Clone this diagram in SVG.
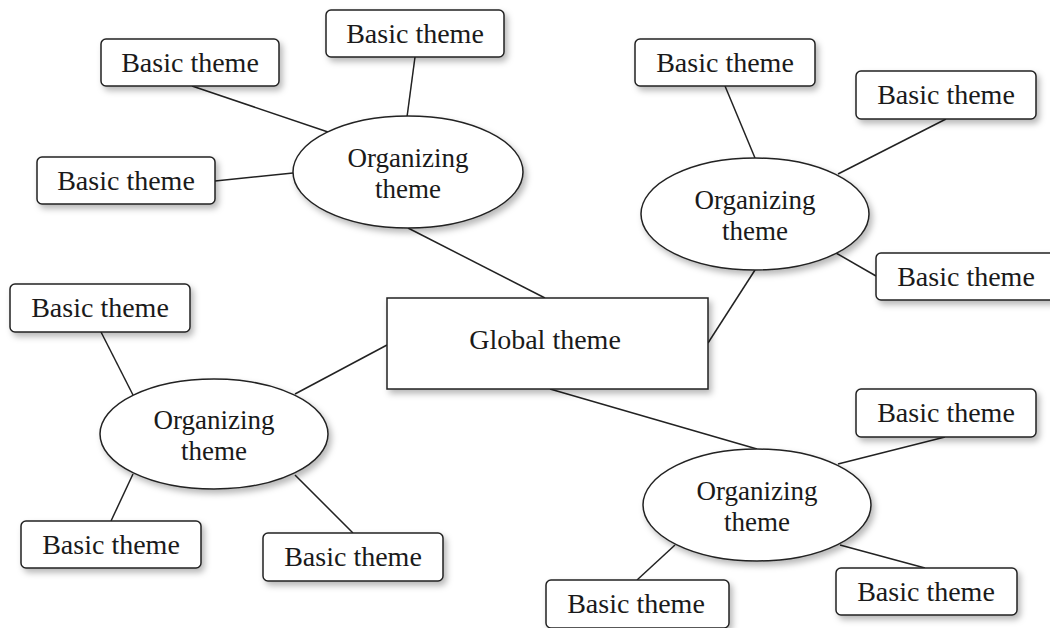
<svg xmlns="http://www.w3.org/2000/svg" width="1050" height="628" viewBox="0 0 1050 628">
  <defs>
    <filter id="shadow" x="-20%" y="-30%" width="150%" height="180%">
      <feDropShadow dx="3" dy="4" stdDeviation="3" flood-color="#000" flood-opacity="0.28"/>
    </filter>
    <style>
      .link { stroke: #222; stroke-width: 1.5; fill: none; }
      .basic rect { fill: #fff; stroke: #222; stroke-width: 1.5; filter: url(#shadow); }
      .org ellipse { fill: #fff; stroke: #222; stroke-width: 1.5; filter: url(#shadow); }
      .global rect { fill: #fff; stroke: #222; stroke-width: 1.5; filter: url(#shadow); }
      text { font-family: "Liberation Serif", "Times New Roman", serif; fill: #1a1a1a; text-anchor: middle; }
      .basic text, .global text { font-size: 28px; }
      .org text { font-size: 27px; }
    </style>
  </defs>
  <rect width="1050" height="628" fill="#fff"/>

  <!-- connectors -->
  <g id="connectors">
    <!-- global to organizing themes -->
    <line class="link" x1="408" y1="228" x2="545" y2="298"/>
    <line class="link" x1="708" y1="343" x2="755" y2="270"/>
    <line class="link" x1="387" y1="345" x2="295" y2="394"/>
    <line class="link" x1="550" y1="389" x2="757" y2="449"/>
    <!-- top-left cluster -->
    <line class="link" x1="192" y1="86" x2="328" y2="132"/>
    <line class="link" x1="415" y1="57" x2="407" y2="117"/>
    <line class="link" x1="215" y1="181" x2="293" y2="173"/>
    <!-- top-right cluster -->
    <line class="link" x1="725" y1="86" x2="755" y2="158"/>
    <line class="link" x1="946" y1="119" x2="838" y2="174"/>
    <line class="link" x1="876" y1="276" x2="836" y2="253"/>
    <!-- left cluster -->
    <line class="link" x1="101" y1="332" x2="133" y2="395"/>
    <line class="link" x1="111" y1="521" x2="133" y2="474"/>
    <line class="link" x1="353" y1="533" x2="295" y2="475"/>
    <!-- bottom-right cluster -->
    <line class="link" x1="945" y1="437" x2="838" y2="464"/>
    <line class="link" x1="925" y1="568" x2="840" y2="545"/>
    <line class="link" x1="637" y1="580" x2="675" y2="545"/>
  </g>

  <!-- global theme -->
  <g id="global" class="global">
    <rect x="387" y="298" width="321" height="91"/>
    <text x="545" y="349">Global theme</text>
  </g>

  <!-- organizing themes -->
  <g id="org-top-left" class="org">
    <ellipse cx="408" cy="172" rx="115" ry="56"/>
    <text x="408" y="167">Organizing</text>
    <text x="408" y="198">theme</text>
  </g>
  <g id="org-top-right" class="org">
    <ellipse cx="755" cy="214" rx="114" ry="56"/>
    <text x="755" y="209">Organizing</text>
    <text x="755" y="240">theme</text>
  </g>
  <g id="org-left" class="org">
    <ellipse cx="214" cy="434" rx="114" ry="55"/>
    <text x="214" y="429">Organizing</text>
    <text x="214" y="460">theme</text>
  </g>
  <g id="org-bottom-right" class="org">
    <ellipse cx="757" cy="505" rx="114" ry="56"/>
    <text x="757" y="500">Organizing</text>
    <text x="757" y="531">theme</text>
  </g>

  <!-- basic themes -->
  <g id="basic-1" class="basic">
    <rect x="101" y="39" width="178" height="47" rx="5"/>
    <text x="190" y="72">Basic theme</text>
  </g>
  <g id="basic-2" class="basic">
    <rect x="326" y="10" width="178" height="47" rx="5"/>
    <text x="415" y="43">Basic theme</text>
  </g>
  <g id="basic-3" class="basic">
    <rect x="37" y="157" width="178" height="47" rx="5"/>
    <text x="126" y="190">Basic theme</text>
  </g>
  <g id="basic-4" class="basic">
    <rect x="635" y="39" width="180" height="47" rx="5"/>
    <text x="725" y="72">Basic theme</text>
  </g>
  <g id="basic-5" class="basic">
    <rect x="856" y="71" width="180" height="48" rx="5"/>
    <text x="946" y="104">Basic theme</text>
  </g>
  <g id="basic-6" class="basic">
    <rect x="876" y="253" width="180" height="47" rx="5"/>
    <text x="966" y="286">Basic theme</text>
  </g>
  <g id="basic-7" class="basic">
    <rect x="10" y="284" width="180" height="48" rx="5"/>
    <text x="100" y="317">Basic theme</text>
  </g>
  <g id="basic-8" class="basic">
    <rect x="21" y="521" width="180" height="47" rx="5"/>
    <text x="111" y="554">Basic theme</text>
  </g>
  <g id="basic-9" class="basic">
    <rect x="263" y="533" width="180" height="48" rx="5"/>
    <text x="353" y="566">Basic theme</text>
  </g>
  <g id="basic-10" class="basic">
    <rect x="856" y="389" width="180" height="48" rx="5"/>
    <text x="946" y="422">Basic theme</text>
  </g>
  <g id="basic-11" class="basic">
    <rect x="836" y="568" width="181" height="47" rx="5"/>
    <text x="926" y="601">Basic theme</text>
  </g>
  <g id="basic-12" class="basic">
    <rect x="546" y="580" width="183" height="48" rx="5"/>
    <text x="636" y="613">Basic theme</text>
  </g>
</svg>
